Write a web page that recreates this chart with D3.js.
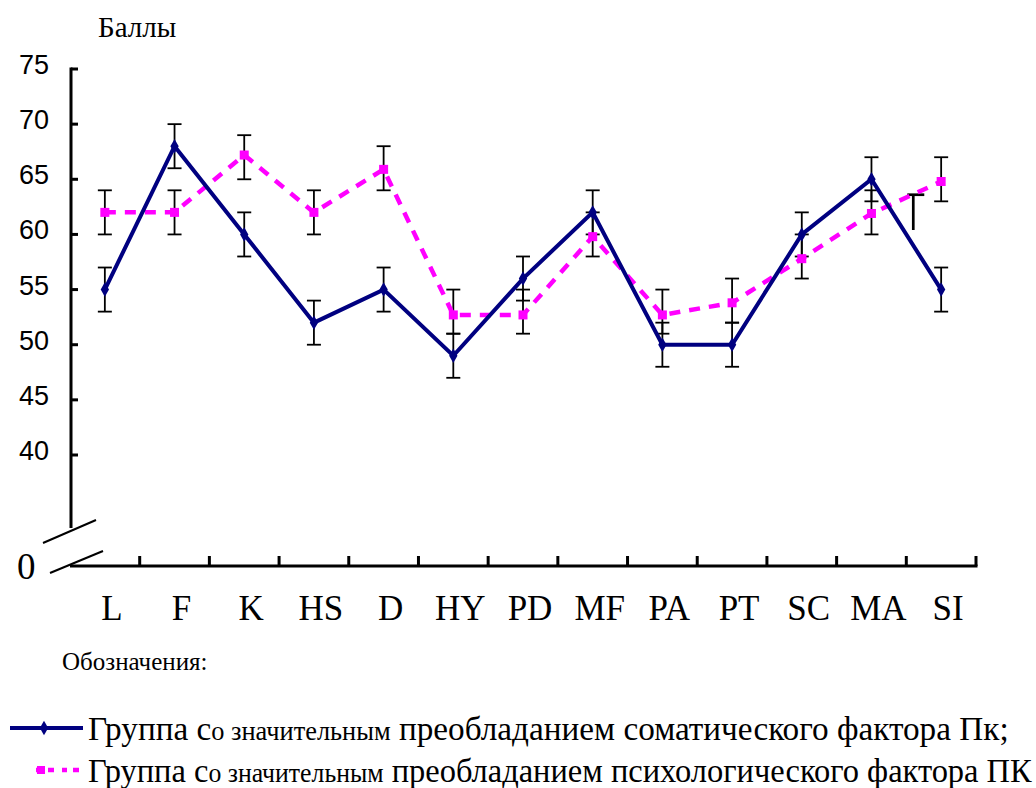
<!DOCTYPE html>
<html>
<head>
<meta charset="utf-8">
<script src="https://cdn.jsdelivr.net/npm/d3@7/dist/d3.min.js"></script>
<style>
  html, body { margin: 0; padding: 0; background: #fff; }
  svg { display: block; }
  .serif { font-family: "Liberation Serif", "Times New Roman", "DejaVu Serif", serif; }
  .sans { font-family: "Liberation Sans", Arial, sans-serif; }
</style>
</head>
<body>
<svg id="chart" width="1036" height="788"></svg>
<script>
// ---- data ----
const categories = ["L","F","K","HS","D","HY","PD","MF","PA","PT","SC","MA","SI"];
const somatic     = [55, 68, 60, 52, 55, 49, 56, 62, 50, 50, 60, 65, 55];
const somaticErr  = [2, 2, 2, 2, 2, 2, 2, 2, 2, 2, 2, 2, 2];
const psych       = [62, 62, 67.2, 62, 65.9, 52.7, 52.7, 59.8, 52.7, 53.8, 57.8, 61.9, 64.8];
const psychLow    = [60, 60, 65, 60, 64, 51, 51, 58, 51, 52, 56, 60, 63];
const psychHigh   = [64, 64, 69, 64, 68, 55, 55, 62, 55, 56, 60, 64, 67];
const yTicks      = [40, 45, 50, 55, 60, 65, 70, 75];
const strayBar    = { after: "MA", frac: 0.6, top: 63.6, bottom: 60.4 };
const yTitle = "Баллы";
const notesTitle = "Обозначения:";
const legend1 = ["Группа с", "о значительным", " преобладанием соматического фактора Пк;"];
const legend2 = ["Группа с", "о значительным", " преобладанием психологического фактора ПК"];

// ---- layout ----
const svg = d3.select("#chart");
const NAVY = "#000080", PINK = "#FF00FF";
const axisX = 71, xAxisY = 566;

const x = d3.scaleBand().domain(categories).range([70, 976]);
const cx = c => x(c) + x.bandwidth() / 2;
const y = d3.scaleLinear().domain([40, 75]).range([455, 69]);

// y axis line (broken)
svg.append("line").attr("x1", axisX).attr("x2", axisX)
  .attr("y1", y(75) - 1.5).attr("y2", 528)
  .attr("stroke", "#000").attr("stroke-width", 3);
svg.selectAll(".ytick").data(yTicks).enter().append("line")
  .attr("x1", axisX).attr("x2", axisX + 7)
  .attr("y1", d => y(d)).attr("y2", d => y(d))
  .attr("stroke", "#000").attr("stroke-width", 3);
svg.selectAll(".ylab").data(yTicks).enter().append("text")
  .attr("class", "sans")
  .attr("x", 49).attr("y", d => y(d) + 5)
  .attr("text-anchor", "end")
  .attr("font-size", 27).text(d => d);

// break slashes
svg.append("line").attr("x1", 43).attr("y1", 543).attr("x2", 96).attr("y2", 520)
  .attr("stroke", "#000").attr("stroke-width", 2);
svg.append("line").attr("x1", 50).attr("y1", 573).attr("x2", 103).attr("y2", 551)
  .attr("stroke", "#000").attr("stroke-width", 2);
svg.append("text").attr("class", "serif").attr("x", 17).attr("y", 579)
  .attr("font-size", 37).text("0");

// x axis
svg.append("line").attr("x1", 70).attr("x2", 977.5)
  .attr("y1", xAxisY).attr("y2", xAxisY)
  .attr("stroke", "#000").attr("stroke-width", 3);
svg.selectAll(".xtick").data(categories).enter().append("line")
  .attr("x1", d => x(d) + x.bandwidth()).attr("x2", d => x(d) + x.bandwidth())
  .attr("y1", xAxisY).attr("y2", xAxisY - 10)
  .attr("stroke", "#000").attr("stroke-width", 3);
svg.selectAll(".xlab").data(categories).enter().append("text")
  .attr("class", "serif")
  .attr("x", d => cx(d) + 7).attr("y", 620)
  .attr("text-anchor", "middle")
  .attr("font-size", 35).text(d => d);

// y title
svg.append("text").attr("class", "serif").attr("x", 98).attr("y", 37)
  .attr("font-size", 29).text(yTitle);

// error bars
function errBar(g, xc, lo, hi, w) {
  g.append("line").attr("x1", xc).attr("x2", xc).attr("y1", y(lo)).attr("y2", y(hi))
    .attr("stroke", "#000").attr("stroke-width", 1.8);
  [lo, hi].forEach(v => g.append("line").attr("x1", xc - w).attr("x2", xc + w)
    .attr("y1", y(v)).attr("y2", y(v)).attr("stroke", "#000").attr("stroke-width", 1.8));
}
const eb = svg.append("g");
categories.forEach((c, i) => {
  errBar(eb, cx(c), psychLow[i], psychHigh[i], 7);
  errBar(eb, cx(c), somatic[i] - somaticErr[i], somatic[i] + somaticErr[i], 7);
});
// stray cap fragment
{
  const sx = cx(strayBar.after) + strayBar.frac * x.step();
  svg.append("line").attr("x1", sx).attr("x2", sx).attr("y1", y(strayBar.top)).attr("y2", y(strayBar.bottom))
    .attr("stroke", "#000").attr("stroke-width", 2.7);
  svg.append("line").attr("x1", sx - 6).attr("x2", sx + 11).attr("y1", y(strayBar.top)).attr("y2", y(strayBar.top))
    .attr("stroke", "#000").attr("stroke-width", 2.7);
}

// psych series (dashed magenta)
const lineP = d3.line().x((d, i) => cx(categories[i])).y(d => y(d));
svg.append("path").datum(psych).attr("d", lineP)
  .attr("fill", "none").attr("stroke", PINK).attr("stroke-width", 4.5)
  .attr("stroke-dasharray", "11,9");
svg.selectAll(".psq").data(psych).enter().append("rect")
  .attr("x", (d, i) => cx(categories[i]) - 4.5).attr("y", d => y(d) - 4.5)
  .attr("width", 9).attr("height", 9).attr("fill", PINK);

// somatic series (solid navy)
svg.append("path").datum(somatic).attr("d", lineP)
  .attr("fill", "none").attr("stroke", NAVY).attr("stroke-width", 4)
  .attr("stroke-linejoin", "miter");
const diamond = d3.symbol().type(d3.symbolDiamond).size(60);
svg.selectAll(".sdm").data(somatic).enter().append("path")
  .attr("d", diamond)
  .attr("transform", (d, i) => `translate(${cx(categories[i])},${y(d)})`)
  .attr("fill", NAVY);

// notes title
svg.append("text").attr("class", "serif").attr("x", 62).attr("y", 670)
  .attr("font-size", 25).text(notesTitle);

// legend
function legendText(parts, baseY, targetW) {
  const t = svg.append("text").attr("class", "serif").attr("x", 0).attr("y", 0);
  t.append("tspan").attr("font-size", 34).text(parts[0]);
  t.append("tspan").attr("font-size", 27).text(parts[1]);
  t.append("tspan").attr("font-size", 34).text(parts[2]);
  const w = t.node().getComputedTextLength();
  t.attr("transform", `translate(88,${baseY}) scale(${targetW / w},1)`);
}
svg.append("line").attr("x1", 10).attr("x2", 83).attr("y1", 728).attr("y2", 728)
  .attr("stroke", NAVY).attr("stroke-width", 4);
svg.append("path").attr("d", diamond).attr("transform", "translate(44,728)").attr("fill", NAVY);
legendText(legend1, 740, 921);
svg.append("line").attr("x1", 34).attr("x2", 80).attr("y1", 770).attr("y2", 770)
  .attr("stroke", PINK).attr("stroke-width", 4.5).attr("stroke-dasharray", "0,2,6,6,6,8,3");
svg.append("rect").attr("x", 37).attr("y", 766).attr("width", 8).attr("height", 8).attr("fill", PINK);
legendText(legend2, 782, 944);
</script>
</body>
</html>
